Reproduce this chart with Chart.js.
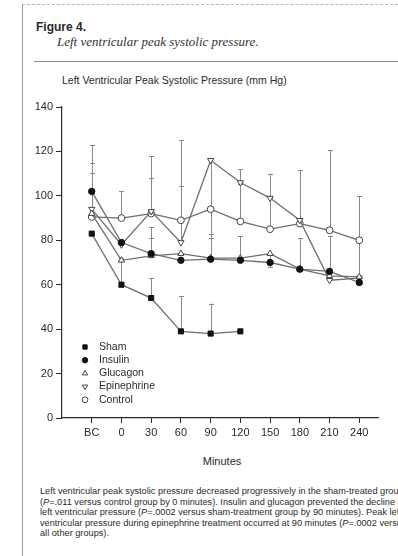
<!DOCTYPE html>
<html>
<head>
<meta charset="utf-8">
<script src="https://cdn.jsdelivr.net/npm/chart.js@4/dist/chart.umd.min.js"></script>
<style>
  html,body{margin:0;padding:0;background:#fff;}
  body{width:398px;height:556px;position:relative;overflow:hidden;font-family:"Liberation Sans Narrow","Arial Narrow","Liberation Sans",sans-serif;color:#2a2a2a;}
  .frameL{position:absolute;left:22px;top:4px;width:1px;height:552px;background:#9a9a9a;}
  .frameT{position:absolute;left:22px;top:4px;width:376px;height:0;border-top:1px dashed #b5b5b5;}
  .rule{position:absolute;left:34px;top:61px;width:364px;height:0;border-top:1px solid #8a8a8a;}
  .fig{position:absolute;left:36px;top:20px;font-size:12px;font-weight:bold;letter-spacing:0;}
  .sub{position:absolute;left:57px;top:34px;font-family:"Liberation Serif","DejaVu Serif",serif;font-style:italic;font-size:13px;color:#333;}
  .ctitle{position:absolute;left:62px;top:74px;font-size:10.5px;}
  canvas{position:absolute;left:0;top:95px;}
  .xt{position:absolute;left:0;width:444px;top:455px;text-align:center;font-size:11px;}
  .cap{position:absolute;left:40px;top:486px;font-size:9.2px;line-height:10.5px;white-space:nowrap;}
</style>
</head>
<body>
<div class="frameL"></div>
<div class="frameT"></div>
<div class="fig">Figure 4.</div>
<div class="sub">Left ventricular peak systolic pressure.</div>
<div class="rule"></div>
<div class="ctitle">Left Ventricular Peak Systolic Pressure (mm Hg)</div>
<canvas id="c" width="398" height="353"></canvas>
<div class="xt">Minutes</div>
<div class="cap">Left ventricular peak systolic pressure decreased progressively in the sham-treated group<br>(<i>P</i>=.011 versus control group by 0 minutes). Insulin and glucagon prevented the decline in<br>left ventricular pressure (<i>P</i>=.0002 versus sham-treatment group by 90 minutes). Peak left<br>ventricular pressure during epinephrine treatment occurred at 90 minutes (<i>P</i>=.0002 versus<br>all other groups).</div>
<script>
const categories = ['BC','0','30','60','90','120','150','180','210','240'];
const yTicks = [0,20,40,60,80,100,120,140];

const sham        = [83, 60, 54, 39, 38, 39, null, null, null, null];
const insulin     = [102, 79, 74, 71, 71.5, 71, 70, 67, 66, 61];
const glucagon    = [92, 71, 73, 74, 72, 72, 74, 67, 64, 63.5];
const epinephrine = [94, 78, 93, 79, 116, 106, 99, 89, 62, 63];
const control     = [90.5, 90, 92, 89, 94, 88.5, 85, 87.5, 84.5, 80];

// error bar extents (positive = up, negative = down)
const shamErr        = [null, 12, 9, 16, 13.5, null, null, null, null, null];
const insulinErr     = [21, null, 12, null, 11.5, 11, null, 14, null, 19];
const glucagonErr    = [null, null, 8, null, 9, null, -6, null, null, null];
const epinephrineErr = [21, null, 25, 46, -33, 6, 11, null, 20, null];
const controlErr     = [20, 12, 16, 15.5, null, 17, 14, 24, 36, 20];

const INK = '#2a2a2a';
const LINE = '#6e6e6e';
const FONT = '"Liberation Sans Narrow","Arial Narrow","Liberation Sans",sans-serif';

function pts(arr){ return arr.map((v,i)=>({x:i,y:v})); }

const series = [
  {label:'Sham', data:sham, err:shamErr, style:'rect', r:3.6, fill:'#111', stroke:'#111', rot:0},
  {label:'Insulin', data:insulin, err:insulinErr, style:'circle', r:3.2, fill:'#111', stroke:'#111', rot:0},
  {label:'Glucagon', data:glucagon, err:glucagonErr, style:'triangle', r:3.6, fill:'#fff', stroke:'#444', rot:0},
  {label:'Epinephrine', data:epinephrine, err:epinephrineErr, style:'triangle', r:3.6, fill:'#fff', stroke:'#444', rot:180},
  {label:'Control', data:control, err:controlErr, style:'circle', r:3.4, fill:'#fff', stroke:'#444', rot:0}
];

const errorBars = {
  id:'errorBars',
  beforeDatasetsDraw(chart){
    const ctx = chart.ctx, xs = chart.scales.x, ys = chart.scales.y;
    ctx.save();
    ctx.strokeStyle = '#8a8a8a';
    ctx.lineWidth = 1;
    chart.data.datasets.forEach(ds=>{
      ds.err.forEach((e,i)=>{
        const v = ds.raw[i];
        if(e==null || v==null) return;
        const x = Math.round(xs.getPixelForValue(i))+0.5;
        const y0 = ys.getPixelForValue(v), y1 = ys.getPixelForValue(v+e);
        ctx.beginPath();
        ctx.moveTo(x,y0); ctx.lineTo(x,y1);
        ctx.moveTo(x-2.5,Math.round(y1)+0.5); ctx.lineTo(x+2.5,Math.round(y1)+0.5);
        ctx.stroke();
      });
    });
    ctx.restore();
  }
};

const legendPlugin = {
  id:'customLegend',
  afterDatasetsDraw(chart){
    const ctx = chart.ctx, ca = chart.chartArea;
    ctx.save();
    ctx.font = '10.5px ' + FONT;
    ctx.fillStyle = INK;
    ctx.textBaseline = 'middle';
    const x0 = ca.left + 23, y0 = ca.top + 240, dy = 13.2;
    chart.data.datasets.forEach((ds,k)=>{
      const y = y0 + k*dy;
      ctx.fillStyle = ds.pointBackgroundColor;
      ctx.strokeStyle = ds.pointBorderColor;
      ctx.lineWidth = 1;
      Chart.helpers.drawPoint(ctx,{pointStyle:ds.pointStyle, radius:ds.pointRadius*0.85, rotation:ds.pointRotation, borderWidth:1}, x0, y);
      ctx.fillStyle = INK;
      ctx.fillText(ds.label, x0 + 14, y);
    });
    ctx.restore();
  }
};

new Chart(document.getElementById('c'), {
  type:'line',
  data:{
    datasets: series.map(s=>({
      label:s.label,
      raw:s.data,
      err:s.err,
      data:pts(s.data),
      borderColor:LINE,
      borderWidth:1.3,
      pointStyle:s.style,
      pointRadius:s.r,
      pointRotation:s.rot,
      pointBackgroundColor:s.fill,
      pointBorderColor:s.stroke,
      pointBorderWidth:1,
      spanGaps:false,
      tension:0
    }))
  },
  options:{
    responsive:false,
    animation:false,
    devicePixelRatio:1,
    layout:{padding:{left:0,right:20,top:12,bottom:0}},
    plugins:{legend:{display:false}, tooltip:{enabled:false}},
    scales:{
      x:{
        type:'linear', min:-1, max:9.63,
        afterBuildTicks(scale){ scale.ticks = categories.map((c,i)=>({value:i})); },
        afterFit(scale){ scale.height = 30; },
        ticks:{callback:(v)=>categories[v], color:INK, font:{family:FONT,size:11}, padding:3, autoSkip:false, maxRotation:0},
        grid:{drawOnChartArea:false, drawTicks:true, tickLength:5, color:INK},
        border:{color:INK, width:1.2}
      },
      y:{
        min:0, max:140,
        afterBuildTicks(scale){ scale.ticks = yTicks.map(v=>({value:v})); },
        afterFit(scale){ scale.width = 62; },
        ticks:{color:INK, font:{family:FONT,size:11}, padding:3},
        grid:{drawOnChartArea:false, drawTicks:true, tickLength:6, color:INK},
        border:{color:INK, width:1.2}
      }
    }
  },
  plugins:[errorBars, legendPlugin]
});
</script>
</body>
</html>
